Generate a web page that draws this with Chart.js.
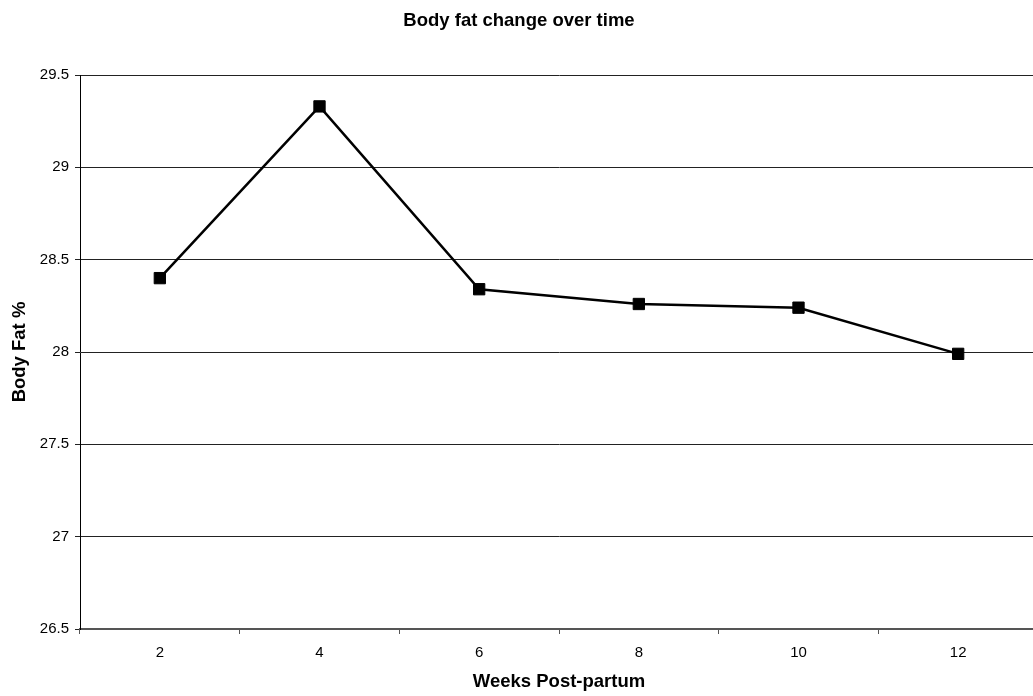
<!DOCTYPE html>
<html>
<head>
<meta charset="utf-8">
<title>Body fat change over time</title>
<script src="https://cdn.jsdelivr.net/npm/chart.js@4/dist/chart.umd.min.js"></script>
<style>
  html, body { margin: 0; padding: 0; background: #fff; overflow: hidden; }
  #wrap { width: 1038px; height: 696px; }
</style>
</head>
<body>
<div id="wrap"><canvas id="fat-chart" width="1038" height="696"></canvas></div>
<script>
// weeks after delivery and measured body fat (%)
const weeks = ['2', '4', '6', '8', '10', '12'];
const bodyFat = [28.40, 29.33, 28.34, 28.26, 28.24, 27.99];

// y axis range and step
const yMin = 26.5;
const yMax = 29.5;
const yStep = 0.5;

const FONT = '"Liberation Sans", Arial, Helvetica, sans-serif';
Chart.defaults.font.family = FONT;
Chart.defaults.color = '#000';

const ctx = document.getElementById('fat-chart');
new Chart(ctx, {
    type: 'line',
    data: {
        labels: weeks,
        datasets: [{
            label: 'Body Fat %',
            data: bodyFat,
            borderColor: '#000',
            borderWidth: 2.5,
            backgroundColor: '#000',
            pointStyle: 'rect',
            pointRadius: 8,
            pointBorderWidth: 1,
            pointBorderColor: '#000',
            pointBackgroundColor: '#000',
            tension: 0,
            fill: false
        }]
    },
    options: {
        responsive: false,
        animation: false,
        // plot runs right up to the canvas edge
        layout: { padding: 0, autoPadding: false },
        plugins: {
            legend: { display: false },
            tooltip: { enabled: false },
            title: {
                display: true,
                text: 'Body fat change over time',
                color: '#000',
                font: { size: 18.5, weight: 'bold', family: FONT },
                padding: { top: 9.7, bottom: 43.1 }
            }
        },
        scales: {
            x: {
                offset: true,
                afterFit: (scale) => {
                    scale.height = 67;
                    scale.paddingLeft = 0;
                    scale.paddingRight = 0;
                },
                grid: { offset: true, drawOnChartArea: false, tickLength: 5, color: '#555' },
                border: { color: '#555', width: 2 },
                ticks: { padding: 10, font: { size: 15, family: FONT }, color: '#000' },
                title: {
                    display: true,
                    text: 'Weeks Post-partum',
                    color: '#000',
                    font: { size: 18.5, weight: 'bold', family: FONT },
                    padding: { top: 0, bottom: 3 }
                }
            },
            y: {
                min: yMin,
                max: yMax,
                afterFit: (scale) => { scale.width = 80; },
                grid: { color: '#222', lineWidth: 1, tickLength: 5 },
                border: { color: '#000', width: 1 },
                ticks: {
                    stepSize: yStep,
                    padding: 6,
                    font: { size: 15, family: FONT },
                    color: '#000',
                    callback: (v) => String(Number(v.toFixed(1)))
                },
                title: {
                    display: true,
                    text: 'Body Fat %',
                    color: '#000',
                    font: { size: 18.5, weight: 'bold', family: FONT },
                    padding: { top: 9, bottom: 0 }
                }
            }
        }
    }
});
</script>
</body>
</html>
